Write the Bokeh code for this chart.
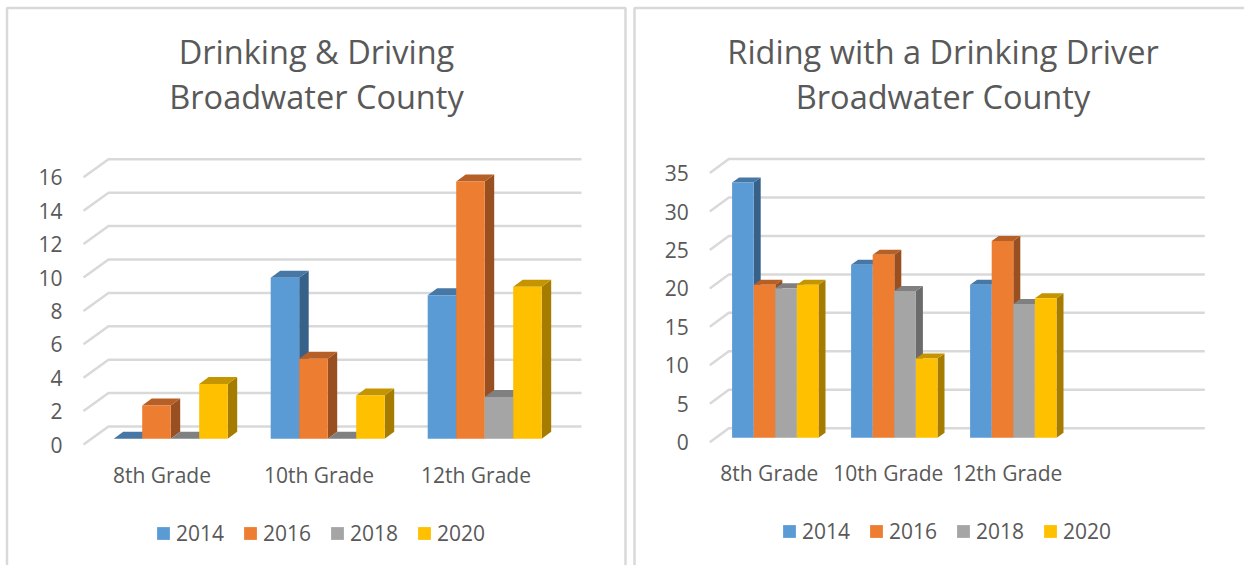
from bokeh.embed import file_html
from bokeh.layouts import row
from bokeh.models import BoxAnnotation, FixedTicker, Label, Legend, LegendItem, Range1d
from bokeh.plotting import figure
from bokeh.resources import INLINE

years = ["2014", "2016", "2018", "2020"]
front_colors = ["#5B9BD5", "#ED7D31", "#A5A5A5", "#FFC000"]
top_colors = ["#4777A5", "#B65F26", "#808080", "#C49500"]
side_colors = ["#376189", "#994F20", "#6B6B6B", "#A67C00"]

left_title = ["Drinking & Driving", "Broadwater County"]
left_categories = ["8th Grade", "10th Grade", "12th Grade"]
left_ticks = [0, 2, 4, 6, 8, 10, 12, 14, 16]
left_2014 = [0, 9.65, 8.6]
left_2016 = [2.0, 4.8, 15.4]
left_2018 = [0, 0, 2.5]
left_2020 = [3.28, 2.6, 9.1]

right_title = ["Riding with a Drinking Driver", "Broadwater County"]
right_categories = ["8th Grade", "10th Grade", "12th Grade", " "]
right_ticks = [0, 5, 10, 15, 20, 25, 30, 35]
right_2014 = [33.2, 22.5, 19.9]
right_2016 = [19.9, 23.8, 25.6]
right_2018 = [19.45, 19.1, 17.4]
right_2020 = [19.9, 10.3, 18.15]

TEXT = "#595959"
GRID = "#D9D9D9"
FONT = "Open Sans"
HEIGHT = 565


def chart(title, categories, ticks, series, width, x0_px, y0_px, y_unit, cat_px,
          grid_shift, grid_tail, bar_shift, depth, bar_px, legend_at, border, title_x, title_ys,
          tick_font, x_standoff):
    # x0_px / y0_px: where the front plane's origin falls on the canvas
    p = figure(width=width, height=HEIGHT, output_backend="svg", toolbar_location=None,
               x_range=Range1d(-x0_px / cat_px, (width - x0_px) / cat_px),
               y_range=Range1d(-(HEIGHT - y0_px) / y_unit, y0_px / y_unit),
               min_border=0, outline_line_color=None, margin=(0, 0, 0, 0))
    p.grid.visible = False

    for line, y_px in zip(title, title_ys):
        p.add_layout(Label(x=(title_x - x0_px) / cat_px, y=(y0_px - y_px) / y_unit,
                           text=line, text_align="center", text_baseline="middle",
                           text_font=FONT, text_font_size="32.5px", text_color=TEXT))

    ax = p.yaxis[0]
    ax.fixed_location = 0
    ax.ticker = FixedTicker(ticks=ticks)
    ax.axis_line_color = None
    ax.major_tick_line_color = None
    ax.minor_tick_line_color = None
    ax.major_tick_in = 0
    ax.major_tick_out = 0
    ax.major_label_standoff = 21
    ax.major_label_text_font = FONT
    ax.major_label_text_font_size = tick_font
    ax.major_label_text_color = TEXT

    xa = p.xaxis[0]
    xa.fixed_location = 0
    positions = [i + 0.5 for i in range(len(categories))]
    xa.ticker = FixedTicker(ticks=positions)
    xa.major_label_overrides = dict(zip(positions, categories))
    xa.axis_line_color = None
    xa.major_tick_line_color = None
    xa.minor_tick_line_color = None
    xa.major_tick_in = 0
    xa.major_tick_out = 0
    xa.major_label_standoff = x_standoff
    xa.major_label_text_font = FONT
    xa.major_label_text_font_size = tick_font
    xa.major_label_text_color = TEXT

    # gridlines: a lead across the floor and a line along the back wall
    gx, gy = grid_shift[0] / cat_px, grid_shift[1] / y_unit
    n = len(categories) + grid_tail / cat_px
    p.multi_line(xs=[[0, gx, n + gx] for _ in ticks],
                 ys=[[t, t + gy, t + gy] for t in ticks],
                 line_color=GRID, line_width=2.5)

    # 3-D bars, painted left to right
    ox, oy = bar_shift[0] / cat_px, bar_shift[1] / y_unit
    dx, dy = depth[0] / cat_px, depth[1] / y_unit
    w = bar_px / cat_px
    fronts = [None] * len(series)
    for c in range(len(series[0])):
        for s, vals in enumerate(series):
            v = vals[c]
            l = c + 0.5 + ox + (s - len(series) / 2) * w
            r = l + w
            b = oy
            t = v + oy
            p.patch([r, r + dx, r + dx, r], [b, b + dy, t + dy, t], fill_color=side_colors[s],
                    line_color=None)
            p.patch([l, l + dx, r + dx, r], [t, t + dy, t + dy, t], fill_color=top_colors[s],
                    line_color=None)
            q = p.quad(left=l, right=r, bottom=b, top=t, fill_color=front_colors[s],
                       line_color=None)
            if fronts[s] is None:
                fronts[s] = q

    legend = Legend(items=[LegendItem(label=y, renderers=[fronts[i]]) for i, y in enumerate(years)],
                    orientation="horizontal", location=legend_at,
                    glyph_width=16, glyph_height=16, label_standoff=5, spacing=18,
                    padding=0, margin=0, border_line_color=None, background_fill_alpha=0,
                    label_text_font=FONT, label_text_font_size=tick_font, label_text_color=TEXT,
                    label_height=14, label_width=48)
    p.add_layout(legend)

    p.add_layout(BoxAnnotation(left=border[0], right=border[1], top=border[2], bottom=border[3],
                               left_units="canvas", right_units="canvas",
                               top_units="canvas", bottom_units="canvas",
                               fill_color=None, fill_alpha=0, line_color=GRID, line_alpha=1,
                               line_width=2.5))
    return p


p1 = chart(left_title, left_categories, left_ticks,
           [left_2014, left_2016, left_2018, left_2020],
           630, 83, 444, 16.7, 157, (25, 18), 2, (8.7, 5.7), (9.5, 7), 28.5,
           (155, 18), (6.5, 625, 7.5, 700), 316, (51, 96), "21px", 16)
p2 = chart(right_title, right_categories, right_ticks,
           [right_2014, right_2016, right_2018, right_2020],
           614, 79.3, 441.7, 7.69, 119, (19, 14), 0, (6, 4.4), (7, 5), 21.6,
           (151, 20), (4, 800, 7.5, 700), 312.5, (51, 96), "21px", 17)

page = row(p1, p2, spacing=0)
open("out.html", "w").write(file_html(page, INLINE))
